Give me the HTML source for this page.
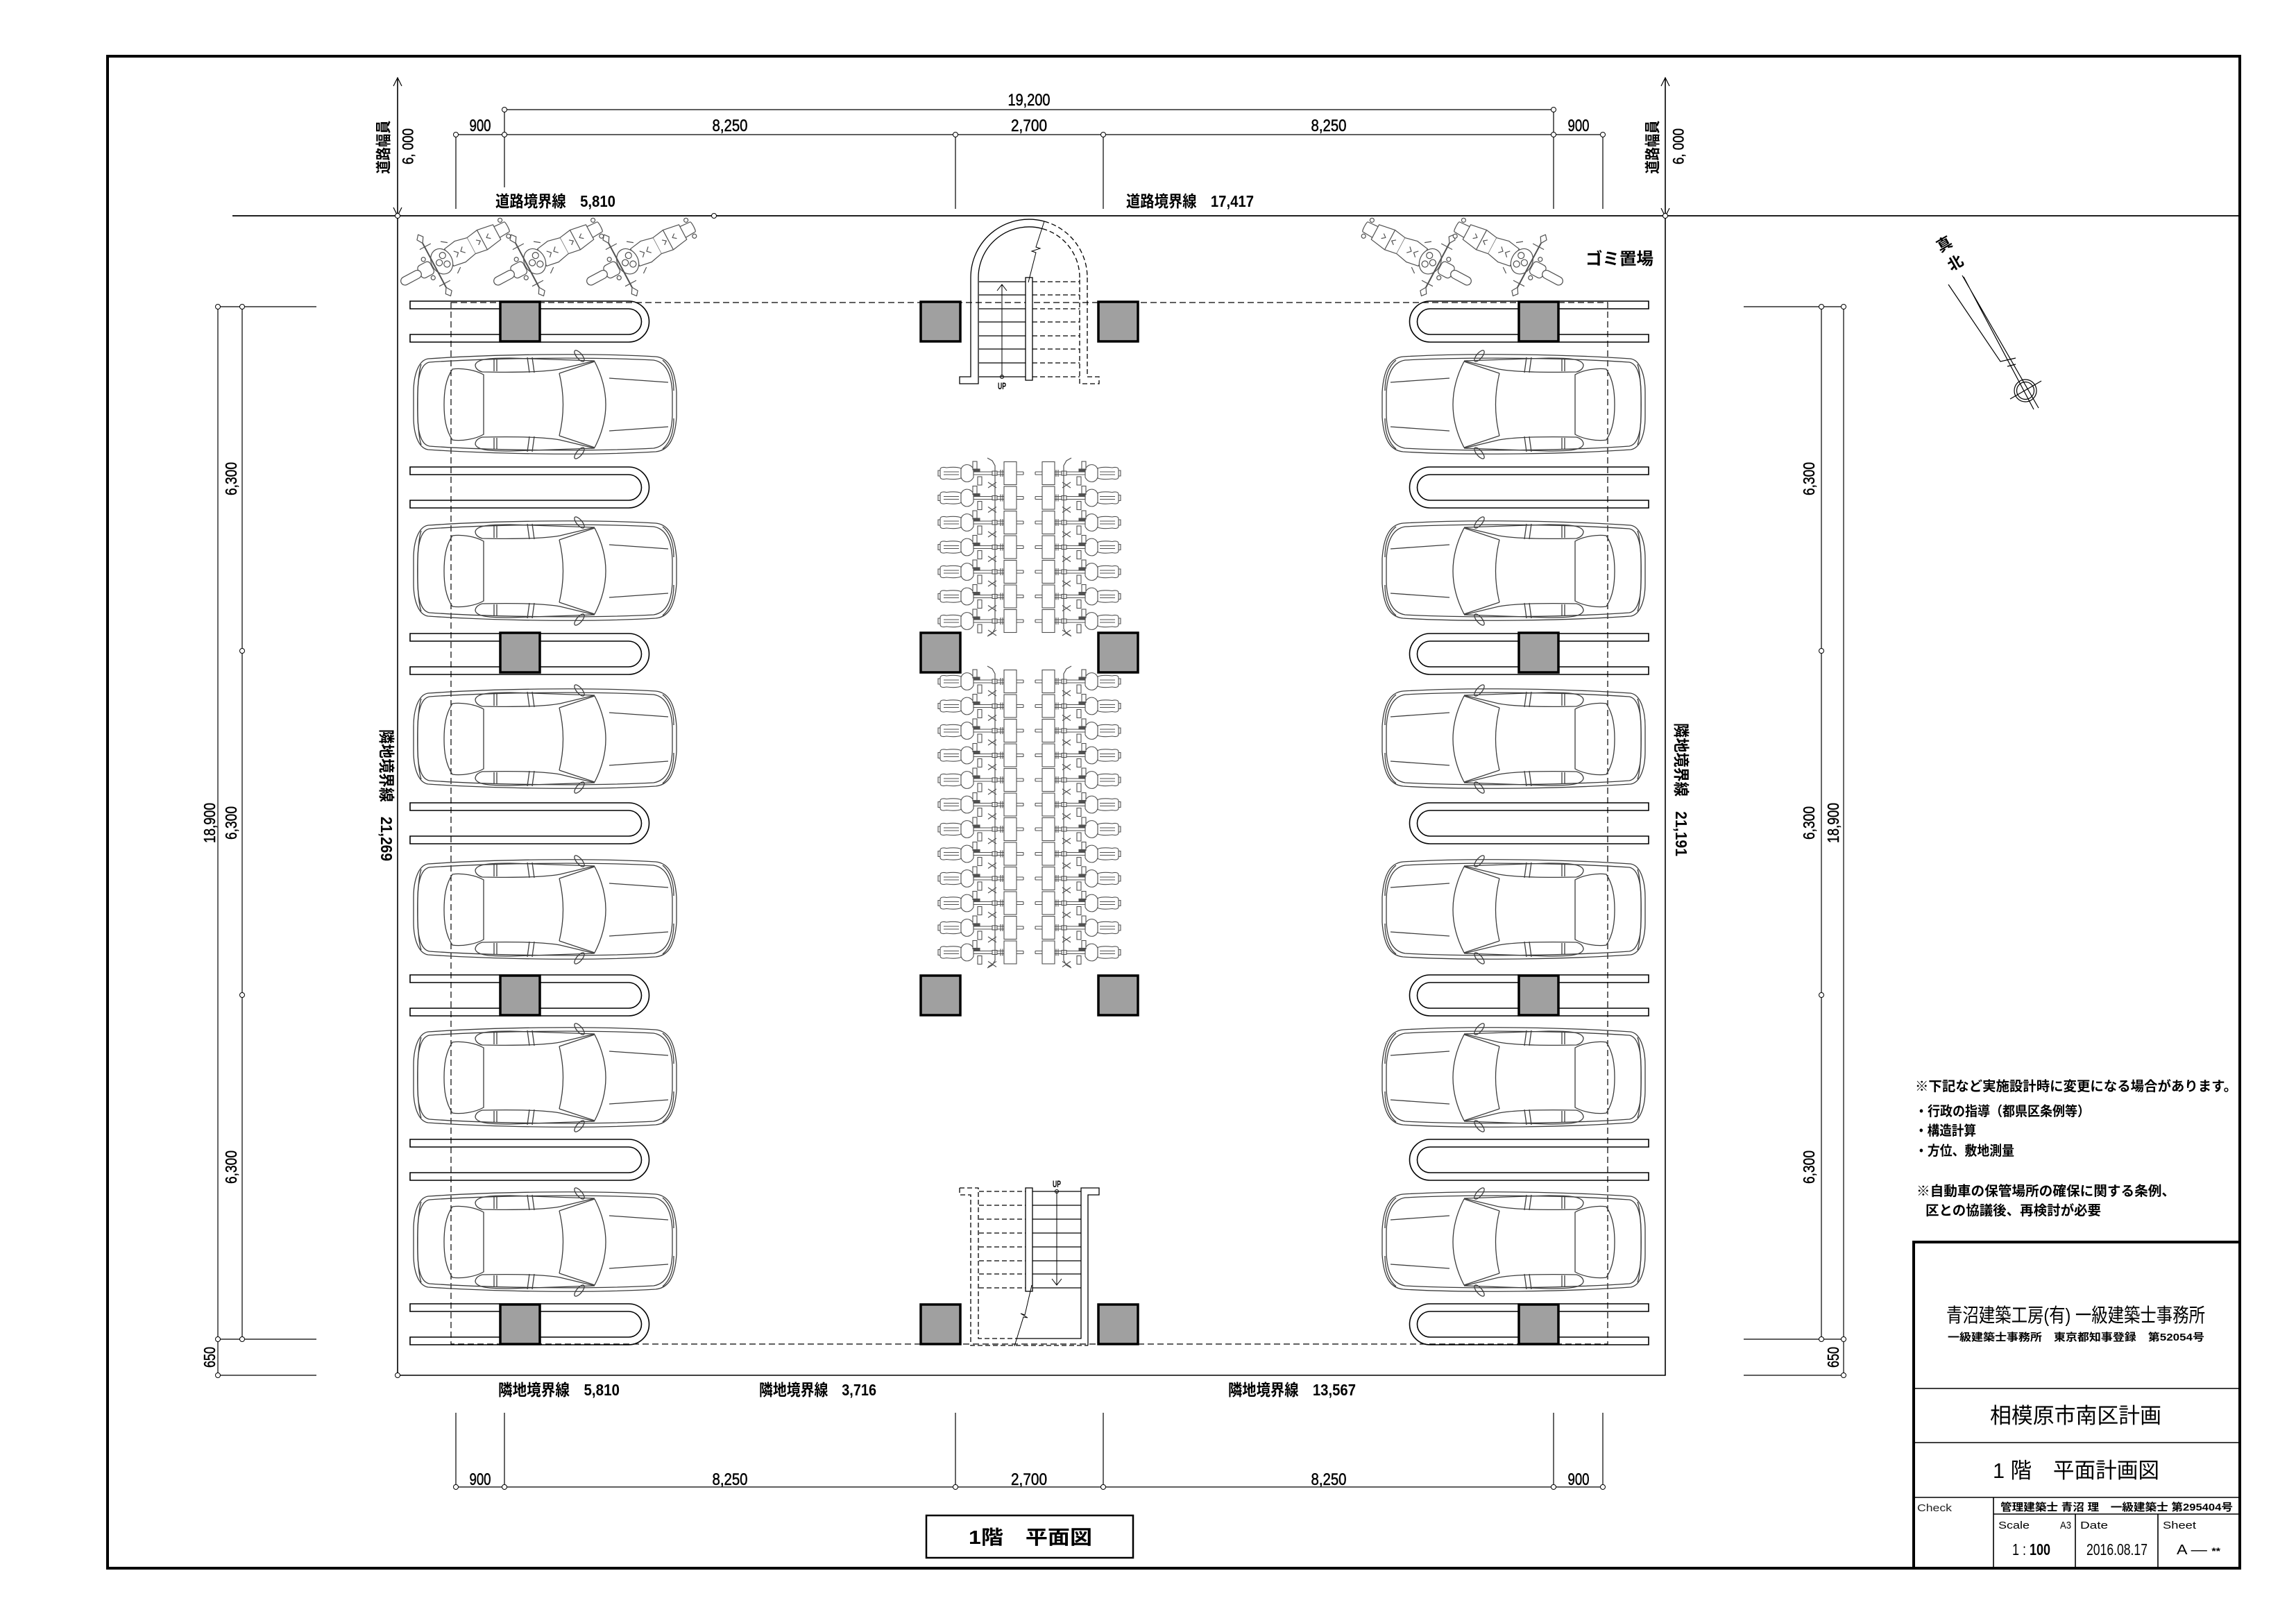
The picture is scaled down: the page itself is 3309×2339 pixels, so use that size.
<!DOCTYPE html>
<html><head><meta charset="utf-8">
<style>
html,body{margin:0;padding:0;background:#fff;width:3309px;height:2339px;overflow:hidden}
svg{display:block}
.t{font-family:"Liberation Sans","Noto Sans CJK JP",sans-serif;fill:#000}
.b{font-family:"Liberation Sans","Noto Sans CJK JP",sans-serif;font-weight:bold;fill:#000}
.d{stroke:#000;stroke-width:0.5}
</style></head><body>
<svg width="3309" height="2339" viewBox="0 0 3309 2339" xmlns="http://www.w3.org/2000/svg">
<defs>
<path id="stop" d="M591,0 H906 A29.5,29.5 0 0 1 906,59 H591 V48 H906 A18.5,18.5 0 0 0 906,11 H591 Z" fill="#fff" stroke="#000" stroke-width="1.6"/>
<g id="car" fill="none" stroke="#3c3c3c" stroke-width="1.3">
 <path d="M22,12 C110,6 250,3 350,9 C370,11 378,30 380,60 L380,96 C378,126 370,144 350,146 C250,152 110,149 22,143 C8,141 1,120 1,96 L1,60 C1,36 8,14 22,12 Z"/>
 <path d="M24,17 C110,11 250,9 347,14 C365,17 373,34 374,62 L374,94 C373,122 365,138 347,141 C250,146 110,144 24,138 C12,136 7,118 7,94 L7,62 C7,38 12,19 24,17 Z"/>
 <path d="M102,35 C90,28 70,25 57,27 C47,42 45,60 45,78 C45,96 47,114 57,129 C70,131 90,128 102,121 Z"/>
 <path d="M211,33 Q222,78 211,123"/>
 <path d="M262,16 Q294,78 262,140"/>
 <path d="M211,33 L262,16 M211,123 L262,140"/>
 <path d="M283,40 L368,46 M283,116 L368,110"/>
 <path d="M90,21 C92,12 112,11 140,11 L262,15 L212,27 C190,31 150,32 100,31 C93,29 90,25 90,21 Z"/>
 <path d="M90,135 C92,144 112,145 140,145 L262,141 L212,129 C190,125 150,124 100,125 C93,127 90,131 90,135 Z"/>
 <path d="M117,13 L117,30 M121,13 L121,30 M165,10 L168,32 M172,10 L175,32 M117,126 L117,143 M121,126 L121,143 M165,146 L168,124 M172,146 L175,124"/>
 <ellipse cx="240" cy="8" rx="10" ry="4" transform="rotate(50 240 8)"/>
 <ellipse cx="240" cy="148" rx="10" ry="4" transform="rotate(-50 240 148)"/>
 <path d="M360,14 C372,24 376,40 376,58 M360,142 C372,132 376,116 376,98"/>
 <path d="M12,20 C5,40 5,116 12,136"/>
</g>
<g id="moto" fill="#fff" stroke="#505050" stroke-width="1.2" stroke-linejoin="round">
 <path d="M2,-8 C0,-8 0,8 2,8 L20,9 L20,-9 Z"/>
 <circle cx="6" cy="-13" r="3"/><circle cx="6" cy="13" r="3"/>
 <path d="M18,-12 L42,-16 L60,-13 L60,13 L42,16 L18,12 Z"/>
 <path d="M42,-16 L42,16"/>
 <path d="M60,-13 L78,-17 L96,-14 L96,14 L78,17 L60,13"/>
 <path d="M30,-4 l5,4 l-5,4 M50,-4 l-5,4 l5,4 M72,-5 l5,5 l-5,5 M86,-5 l-5,5 l5,5"/>
 <ellipse cx="108" cy="0" rx="15" ry="19"/>
 <circle cx="103" cy="-7" r="4.5"/><circle cx="112" cy="0" r="4.5"/><circle cx="103" cy="7" r="4.5"/>
 <path d="M88,-20 L96,-26 M88,20 L96,26"/>
 <path d="M120,-36 L120,36" stroke-width="2"/>
 <path d="M115,-44 L120,-36 L125,-44 L120,-50 Z M115,44 L120,36 L125,44 L120,50 Z"/>
 <path d="M110,-30 L128,-30 M110,30 L128,30"/>
 <rect x="124" y="-10" width="20" height="20" rx="5"/>
 <circle cx="130" cy="-15" r="3"/><circle cx="130" cy="15" r="3"/>
 <rect x="142" y="-6" width="32" height="12" rx="6"/>
</g>
<g id="bike" fill="#fff" stroke="#505050" stroke-width="1.1">
 <path d="M3,-4 H0 V4 H3"/>
 <path d="M3,-5 C3,-9 8,-9 12,-8 C20,-9 28,-9 33,-7 L33,7 C28,9 20,9 12,8 C8,9 3,9 3,5 Z"/>
 <path d="M8,-2 H30 M8,2 H30"/>
 <path d="M33,-6 C36,-14 46,-15 51,-6 L51,6 C46,15 36,14 33,6 Z"/>
 <path d="M51,-2 H123 M51,2 H123 M123,-2 V2"/>
 <rect x="50" y="-17" width="6" height="12"/>
 <rect x="57" y="5" width="6" height="12"/>
 <rect x="51" y="-6" width="9" height="4" fill="#505050"/>
 <rect x="78" y="-3" width="7" height="6"/>
 <path d="M90,-5 V5 M93,-5 V5"/>
 <rect x="95" y="-16.5" width="18" height="33"/>
 <path d="M72,13 L84,21 M72,21 L84,13"/>
</g>
<g id="bikes1">
 <use href="#bike" x="1352" y="682"/><use href="#bike" x="1352" y="717.5"/><use href="#bike" x="1352" y="753"/><use href="#bike" x="1352" y="788.5"/><use href="#bike" x="1352" y="824"/><use href="#bike" x="1352" y="859.5"/><use href="#bike" x="1352" y="895"/>
 <path d="M1423,660 L1430,664 L1434,671 V906 L1430,913 L1423,917" fill="none" stroke="#505050" stroke-width="1.2"/>
 <use href="#bike" x="1352" y="982"/><use href="#bike" x="1352" y="1017.5"/><use href="#bike" x="1352" y="1053"/><use href="#bike" x="1352" y="1088.5"/><use href="#bike" x="1352" y="1124"/><use href="#bike" x="1352" y="1159.5"/><use href="#bike" x="1352" y="1195"/><use href="#bike" x="1352" y="1230.5"/><use href="#bike" x="1352" y="1266"/><use href="#bike" x="1352" y="1301.5"/><use href="#bike" x="1352" y="1337"/><use href="#bike" x="1352" y="1372.5"/>
 <path d="M1423,960 L1430,964 L1434,971 V1384 L1430,1391 L1423,1395" fill="none" stroke="#505050" stroke-width="1.2"/>
</g>
</defs>

<!-- frame -->
<rect x="155" y="81" width="3073" height="2179" fill="none" stroke="#000" stroke-width="4"/>

<!-- road line and site boundary -->
<g stroke="#000" fill="none">
 <path d="M335,311 H3228" stroke-width="1.8"/>
 <path d="M573,112 V1982 H2400 V112" stroke-width="1.6"/>
 <path d="M567,124 L573,112 L579,124 M567,299 L573,311 L579,299" stroke-width="1.2"/>
 <path d="M2394,124 L2400,112 L2406,124 M2394,300 L2400,312 L2406,300" stroke-width="1.2"/>
 <circle cx="573" cy="311" r="3.5" fill="#fff" stroke-width="1"/>
 <circle cx="1029" cy="311" r="3.5" fill="#fff" stroke-width="1"/>
 <circle cx="2400" cy="311" r="3.5" fill="#fff" stroke-width="1"/>
 <circle cx="573" cy="1982" r="3.5" fill="#fff" stroke-width="1"/>
</g>

<!-- top dimensions -->
<g stroke="#000" stroke-width="1.2" fill="none">
 <path d="M727,158 H2239 M657,194 H2310"/>
 <path d="M657,194 V301 M727,158 V270 M1377,194 V301 M1590,194 V301 M2239,158 V301 M2310,194 V301"/>
 <path d="M657,2143 H2310"/>
 <path d="M657,2036 V2143 M727,2036 V2143 M1377,2036 V2143 M1590,2036 V2143 M2239,2036 V2143 M2310,2036 V2143"/>
</g>
<g fill="#fff" stroke="#000" stroke-width="1">
 <circle cx="727" cy="158" r="3.5"/><circle cx="2239" cy="158" r="3.5"/>
 <circle cx="657" cy="194" r="3.5"/><circle cx="727" cy="194" r="3.5"/><circle cx="1377" cy="194" r="3.5"/><circle cx="1590" cy="194" r="3.5"/><circle cx="2239" cy="194" r="3.5"/><circle cx="2310" cy="194" r="3.5"/>
 <circle cx="657" cy="2143" r="3.5"/><circle cx="727" cy="2143" r="3.5"/><circle cx="1377" cy="2143" r="3.5"/><circle cx="1590" cy="2143" r="3.5"/><circle cx="2239" cy="2143" r="3.5"/><circle cx="2310" cy="2143" r="3.5"/>
</g>
<g class="t d" font-size="24" text-anchor="middle">
 <text x="1483" y="152" textLength="61" lengthAdjust="spacingAndGlyphs">19,200</text>
 <text x="692" y="189" textLength="31" lengthAdjust="spacingAndGlyphs">900</text>
 <text x="1052" y="189" textLength="51" lengthAdjust="spacingAndGlyphs">8,250</text>
 <text x="1483" y="189" textLength="52" lengthAdjust="spacingAndGlyphs">2,700</text>
 <text x="1915" y="189" textLength="51" lengthAdjust="spacingAndGlyphs">8,250</text>
 <text x="2275" y="189" textLength="31" lengthAdjust="spacingAndGlyphs">900</text>
 <text x="692" y="2140" textLength="31" lengthAdjust="spacingAndGlyphs">900</text>
 <text x="1052" y="2140" textLength="51" lengthAdjust="spacingAndGlyphs">8,250</text>
 <text x="1483" y="2140" textLength="52" lengthAdjust="spacingAndGlyphs">2,700</text>
 <text x="1915" y="2140" textLength="51" lengthAdjust="spacingAndGlyphs">8,250</text>
 <text x="2275" y="2140" textLength="31" lengthAdjust="spacingAndGlyphs">900</text>
</g>
<g class="b" font-size="23">
 <text x="714" y="298" textLength="173" lengthAdjust="spacingAndGlyphs">道路境界線　5,810</text>
 <text x="1623" y="298" textLength="184" lengthAdjust="spacingAndGlyphs">道路境界線　17,417</text>
 <text x="718" y="2011" textLength="175" lengthAdjust="spacingAndGlyphs">隣地境界線　5,810</text>
 <text x="1094" y="2011" textLength="169" lengthAdjust="spacingAndGlyphs">隣地境界線　3,716</text>
 <text x="1770" y="2011" textLength="184" lengthAdjust="spacingAndGlyphs">隣地境界線　13,567</text>
 <text text-anchor="middle" dy="0.35em" transform="translate(557,1146) rotate(90)" textLength="190" lengthAdjust="spacingAndGlyphs">隣地境界線　21,269</text>
 <text text-anchor="middle" dy="0.35em" transform="translate(2423,1138) rotate(90)" textLength="192" lengthAdjust="spacingAndGlyphs">隣地境界線　21,191</text>
 <text text-anchor="middle" dy="0.35em" font-size="22" transform="translate(553,212) rotate(-90)" textLength="77" lengthAdjust="spacingAndGlyphs">道路幅員</text>
 <text text-anchor="middle" dy="0.35em" font-size="22" transform="translate(2382,212) rotate(-90)" textLength="77" lengthAdjust="spacingAndGlyphs">道路幅員</text>
 <text x="2285" y="381" font-size="24" textLength="98" lengthAdjust="spacingAndGlyphs">ゴミ置場</text>
</g>
<g class="t d" font-size="22" text-anchor="middle">
 <text dy="0.35em" transform="translate(588,211) rotate(-90)" textLength="52" lengthAdjust="spacingAndGlyphs">6, 000</text>
 <text dy="0.35em" transform="translate(2419,211) rotate(-90)" textLength="52" lengthAdjust="spacingAndGlyphs">6, 000</text>
</g>

<!-- left / right dims -->
<g stroke="#000" stroke-width="1.2" fill="none">
 <path d="M314,442 V1982 M349,442 V1930 M314,442 H456 M314,1930 H456 M314,1982 H456"/>
 <path d="M2657,442 V1982 M2625,442 V1930 M2513,442 H2657 M2513,1930 H2657 M2513,1982 H2657"/>
</g>
<g fill="#fff" stroke="#000" stroke-width="1">
 <circle cx="314" cy="442" r="3.5"/><circle cx="349" cy="442" r="3.5"/><circle cx="349" cy="938" r="3.5"/><circle cx="349" cy="1434" r="3.5"/><circle cx="314" cy="1930" r="3.5"/><circle cx="349" cy="1930" r="3.5"/><circle cx="314" cy="1982" r="3.5"/>
 <circle cx="2657" cy="442" r="3.5"/><circle cx="2625" cy="442" r="3.5"/><circle cx="2625" cy="938" r="3.5"/><circle cx="2625" cy="1434" r="3.5"/><circle cx="2657" cy="1930" r="3.5"/><circle cx="2625" cy="1930" r="3.5"/><circle cx="2657" cy="1982" r="3.5"/>
</g>
<g class="t d" font-size="23" text-anchor="middle">
 <text dy="0.35em" transform="translate(333,690) rotate(-90)" textLength="48" lengthAdjust="spacingAndGlyphs">6,300</text>
 <text dy="0.35em" transform="translate(333,1186) rotate(-90)" textLength="48" lengthAdjust="spacingAndGlyphs">6,300</text>
 <text dy="0.35em" transform="translate(333,1682) rotate(-90)" textLength="48" lengthAdjust="spacingAndGlyphs">6,300</text>
 <text dy="0.35em" transform="translate(302,1186) rotate(-90)" textLength="58" lengthAdjust="spacingAndGlyphs">18,900</text>
 <text dy="0.35em" transform="translate(302,1956) rotate(-90)" textLength="30" lengthAdjust="spacingAndGlyphs">650</text>
 <text dy="0.35em" transform="translate(2607,690) rotate(-90)" textLength="48" lengthAdjust="spacingAndGlyphs">6,300</text>
 <text dy="0.35em" transform="translate(2607,1186) rotate(-90)" textLength="48" lengthAdjust="spacingAndGlyphs">6,300</text>
 <text dy="0.35em" transform="translate(2607,1682) rotate(-90)" textLength="48" lengthAdjust="spacingAndGlyphs">6,300</text>
 <text dy="0.35em" transform="translate(2642,1186) rotate(-90)" textLength="58" lengthAdjust="spacingAndGlyphs">18,900</text>
 <text dy="0.35em" transform="translate(2642,1956) rotate(-90)" textLength="30" lengthAdjust="spacingAndGlyphs">650</text>
</g>

<!-- car stops -->
<use href="#stop" y="434"/><use href="#stop" y="673"/><use href="#stop" y="913"/><use href="#stop" y="1157"/><use href="#stop" y="1405"/><use href="#stop" y="1642"/><use href="#stop" y="1879"/>
<g transform="translate(2967,0) scale(-1,1)">
<use href="#stop" y="434"/><use href="#stop" y="673"/><use href="#stop" y="913"/><use href="#stop" y="1157"/><use href="#stop" y="1405"/><use href="#stop" y="1642"/><use href="#stop" y="1879"/>
</g>

<!-- dashed outline -->
<rect x="650" y="436" width="1667" height="1501" fill="none" stroke="#000" stroke-width="1.2" stroke-dasharray="9 5"/>

<!-- cars -->
<use href="#car" x="595" y="505"/><use href="#car" x="595" y="745"/><use href="#car" x="595" y="987"/><use href="#car" x="595" y="1233"/><use href="#car" x="595" y="1475"/><use href="#car" x="595" y="1712"/>
<g transform="translate(2967,0) scale(-1,1)">
<use href="#car" x="595" y="505"/><use href="#car" x="595" y="745"/><use href="#car" x="595" y="987"/><use href="#car" x="595" y="1233"/><use href="#car" x="595" y="1475"/><use href="#car" x="595" y="1712"/>
</g>

<!-- motorcycles -->
<use href="#moto" transform="translate(732,326) scale(-1,1) rotate(28)"/>
<use href="#moto" transform="translate(866,326) scale(-1,1) rotate(28)"/>
<use href="#moto" transform="translate(1000,326) scale(-1,1) rotate(28)"/>
<use href="#moto" transform="translate(1966,326) rotate(28)"/>
<use href="#moto" transform="translate(2098,326) rotate(28)"/>

<!-- bicycles -->
<use href="#bikes1"/>
<g transform="translate(2967,0) scale(-1,1)"><use href="#bikes1"/></g>

<!-- top stair -->
<g fill="none" stroke="#000" stroke-width="1.3">
 <path d="M1399,400 A84,84 0 0 1 1505,319 M1410,400 A73,73 0 0 1 1502.4,329.6"/>
 <path d="M1399,400 V543 H1383 V553 H1410 V400"/>
 <path d="M1411,406 H1478 M1411,425 H1478 M1411,445 H1478 M1411,464 H1478 M1411,484 H1478 M1411,503 H1478 M1411,523 H1478 M1411,543 H1478"/>
 <rect x="1478" y="400" width="10" height="148" fill="#fff"/>
 <path d="M1444,543 V410 M1437,419 L1444,410 L1451,419" stroke-width="1"/>
 <circle cx="1444" cy="543" r="2.5" stroke-width="1"/>
 <path d="M1482,407 L1493,364 L1487,362 L1499,358 L1493,356 L1505,319" stroke-width="1"/>
 <g stroke-dasharray="7 4">
  <path d="M1505,319 A84,84 0 0 1 1567,400 M1502.4,329.6 A73,73 0 0 1 1556,400"/>
  <path d="M1567,400 V543 H1584 V553 H1556 V400"/>
  <path d="M1488,406 H1556 M1488,425 H1556 M1488,445 H1556 M1488,464 H1556 M1488,484 H1556 M1488,503 H1556 M1488,523 H1556 M1488,543 H1556"/>
 </g>
</g>
<text class="b" x="1444" y="561" font-size="14" text-anchor="middle" textLength="12" lengthAdjust="spacingAndGlyphs">UP</text>

<!-- bottom stair -->
<g fill="none" stroke="#000" stroke-width="1.3">
 <path d="M1467,1929 H1558 V1712 H1584 V1722 H1568 V1939"/>
 <path d="M1488,1717 H1558 M1488,1737 H1558 M1488,1757 H1558 M1488,1777 H1558 M1488,1797 H1558 M1488,1817 H1558 M1488,1836 H1558 M1488,1856 H1558"/>
 <g stroke-dasharray="7 4">
  <path d="M1383,1712 H1410 V1929 H1467 M1383,1712 V1722 H1399 V1939 H1568"/>
  <path d="M1411,1717 H1478 M1411,1737 H1478 M1411,1757 H1478 M1411,1777 H1478 M1411,1797 H1478 M1411,1817 H1478 M1411,1836 H1478 M1411,1856 H1478"/>
 </g>
 <rect x="1478" y="1712" width="10" height="149" fill="#fff"/>
 <path d="M1523,1717 V1852 M1516,1843 L1523,1852 L1530,1843" stroke-width="1"/>
 <circle cx="1523" cy="1717" r="2.5" stroke-width="1"/>
 <path d="M1487,1852 L1477,1895 L1471,1893 L1481,1899 L1475,1898 L1462,1940" stroke-width="1"/>
</g>
<text class="b" x="1523" y="1711" font-size="14" text-anchor="middle" textLength="12" lengthAdjust="spacingAndGlyphs">UP</text>

<!-- columns -->
<g fill="#a0a0a0" stroke="#000" stroke-width="3.5">
 <rect x="721" y="435" width="57" height="57"/><rect x="1327" y="435" width="57" height="57"/><rect x="1583" y="435" width="57" height="57"/><rect x="2189" y="435" width="57" height="57"/>
 <rect x="721" y="912" width="57" height="57"/><rect x="1327" y="912" width="57" height="57"/><rect x="1583" y="912" width="57" height="57"/><rect x="2189" y="912" width="57" height="57"/>
 <rect x="721" y="1406" width="57" height="57"/><rect x="1327" y="1406" width="57" height="57"/><rect x="1583" y="1406" width="57" height="57"/><rect x="2189" y="1406" width="57" height="57"/>
 <rect x="721" y="1880" width="57" height="57"/><rect x="1327" y="1880" width="57" height="57"/><rect x="1583" y="1880" width="57" height="57"/><rect x="2189" y="1880" width="57" height="57"/>
</g>

<!-- north arrow -->
<g stroke="#000" stroke-width="1.2" fill="none">
 <path d="M2828,397 L2938,588 M2830,399 L2931,590 M2808,410 L2883,521 L2905,516 M2893,528 L2905,525"/>
 <circle cx="2919" cy="563" r="16"/><circle cx="2919" cy="563" r="12.5"/>
 <path d="M2897,575 L2942,549"/>
</g>
<g class="b" font-size="22" text-anchor="middle">
 <text dy="0.35em" transform="translate(2802,352) rotate(-30)">真</text>
 <text dy="0.35em" transform="translate(2818,379) rotate(-30)">北</text>
</g>

<!-- plan title box -->
<rect x="1335" y="2184" width="298" height="61" fill="none" stroke="#000" stroke-width="2.5"/>
<text class="b" x="1485" y="2225" font-size="28" text-anchor="middle" textLength="178" lengthAdjust="spacingAndGlyphs">1階　平面図</text>

<!-- notes -->
<g class="b" font-size="19.5">
 <text x="2760" y="1572" textLength="464" lengthAdjust="spacingAndGlyphs">※下記など実施設計時に変更になる場合があります。</text>
 <text x="2760" y="1608" textLength="252" lengthAdjust="spacingAndGlyphs">・行政の指導（都県区条例等）</text>
 <text x="2760" y="1636" textLength="88" lengthAdjust="spacingAndGlyphs">・構造計算</text>
 <text x="2760" y="1665" textLength="143" lengthAdjust="spacingAndGlyphs">・方位、敷地測量</text>
 <text x="2762" y="1723" textLength="373" lengthAdjust="spacingAndGlyphs">※自動車の保管場所の確保に関する条例、</text>
 <text x="2775" y="1751" textLength="253" lengthAdjust="spacingAndGlyphs">区との協議後、再検討が必要</text>
</g>

<!-- title block -->
<g stroke="#000" fill="none">
 <path d="M2758,2260 V1790 H3228" stroke-width="4"/>
 <path d="M2758,2001 H3228 M2758,2079 H3228 M2758,2158 H3228" stroke-width="1.6"/>
 <path d="M2873,2182 H3228 M2873,2158 V2260 M2991,2182 V2260 M3110,2182 V2260" stroke-width="1.6"/>
</g>
<g class="t">
 <text x="2805" y="1905" font-size="28" textLength="373" lengthAdjust="spacingAndGlyphs">青沼建築工房(有) 一級建築士事務所</text>
 <text x="2868" y="2051" font-size="31" textLength="247" lengthAdjust="spacingAndGlyphs">相模原市南区計画</text>
 <text x="2872" y="2130" font-size="31" textLength="240" lengthAdjust="spacingAndGlyphs">1 階　平面計画図</text>
 <text x="2763" y="2178" font-size="15" fill="#222" textLength="50" lengthAdjust="spacingAndGlyphs">Check</text>
 <text x="2880" y="2203" font-size="15" textLength="45" lengthAdjust="spacingAndGlyphs">Scale</text>
 <text x="2969" y="2203" font-size="15" textLength="16" lengthAdjust="spacingAndGlyphs">A3</text>
 <text x="2998" y="2203" font-size="15" textLength="40" lengthAdjust="spacingAndGlyphs">Date</text>
 <text x="3117" y="2203" font-size="15" textLength="48" lengthAdjust="spacingAndGlyphs">Sheet</text>
 <text x="2900" y="2241" font-size="23" textLength="55" lengthAdjust="spacingAndGlyphs">1 : <tspan font-weight="bold">100</tspan></text>
 <text x="3007" y="2241" font-size="23" textLength="88" lengthAdjust="spacingAndGlyphs">2016.08.17</text>
 <text x="3137" y="2240" font-size="20" textLength="63" lengthAdjust="spacingAndGlyphs">A — <tspan font-weight="bold" font-size="14">**</tspan></text>
</g>
<g class="b" font-size="15">
 <text x="2807" y="1932" textLength="370" lengthAdjust="spacingAndGlyphs">一級建築士事務所　東京都知事登録　第52054号</text>
 <text x="2883" y="2177" textLength="335" lengthAdjust="spacingAndGlyphs">管理建築士 青沼 理　一級建築士 第295404号</text>
</g>
</svg>
</body></html>
